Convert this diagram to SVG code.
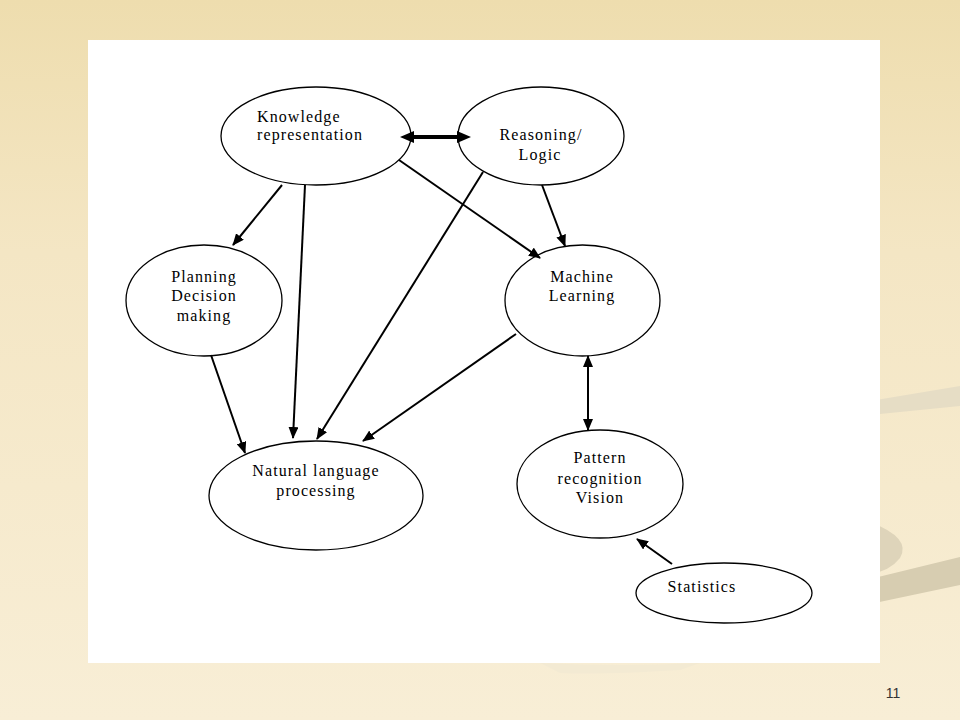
<svg xmlns="http://www.w3.org/2000/svg" width="960" height="720" viewBox="0 0 960 720">
<defs>
<linearGradient id="bg" x1="0" y1="0" x2="0" y2="1">
<stop offset="0" stop-color="#EEDDAE"/>
<stop offset="0.35" stop-color="#F4E6C4"/>
<stop offset="1" stop-color="#F8EED6"/>
</linearGradient>
<marker id="ah" viewBox="0 0 12 10" refX="11" refY="5" markerWidth="12" markerHeight="10" markerUnits="userSpaceOnUse" orient="auto-start-reverse">
<path d="M0,0 L12,5 L0,10 Z" fill="#000"/>
</marker>
<marker id="ahb" viewBox="0 0 14 12" refX="3" refY="6" markerWidth="14" markerHeight="12" markerUnits="userSpaceOnUse" orient="auto-start-reverse">
<path d="M0,0 L14,6 L0,12 Z" fill="#000"/>
</marker>
</defs>
<style>
.node ellipse{fill:#fff;stroke:#000;stroke-width:1.3}
.node text{font-family:"Liberation Serif","Times New Roman",serif;font-size:16px;fill:#000;letter-spacing:1.1px}
.c{text-anchor:middle}
#connectors line{stroke:#000;stroke-width:2;fill:none}
</style>
<rect width="960" height="720" fill="url(#bg)"/>
<g id="decor">
<path d="M870,401 L960,386 L960,406 L870,415 Z" fill="#E6DDC5"/>
<path d="M870,522 Q912,538 900,558 Q890,571 870,574 Z" fill="#DED4BA"/>
<path d="M870,579 L960,557 L960,585 L870,604 Z" fill="#D7CDB1"/>
<path d="M540,663 Q620,667 700,663 L680,670 Q600,675 560,673 Z" fill="#F3EAD3"/>
</g>
<rect x="88" y="40" width="792" height="623" fill="#fff"/>
<g id="kr" class="node">
<ellipse cx="316" cy="136" rx="95" ry="49"/>
<text x="257" y="122">Knowledge</text>
<text x="257" y="140">representation</text>
</g>
<g id="reasoning" class="node">
<ellipse cx="541" cy="136" rx="83" ry="49"/>
<text class="c" x="541" y="140">Reasoning/</text>
<text class="c" x="540" y="160">Logic</text>
</g>
<g id="planning" class="node">
<ellipse cx="204" cy="300.5" rx="78" ry="55.5"/>
<text class="c" x="204" y="282">Planning</text>
<text class="c" x="204" y="301">Decision</text>
<text class="c" x="204" y="321">making</text>
</g>
<g id="ml" class="node">
<ellipse cx="582.5" cy="300.5" rx="77.5" ry="55.5"/>
<text class="c" x="582" y="282">Machine</text>
<text class="c" x="582" y="301">Learning</text>
</g>
<g id="nlp" class="node">
<ellipse cx="316" cy="495.5" rx="107" ry="54.5"/>
<text class="c" x="316" y="476">Natural language</text>
<text class="c" x="316" y="496">processing</text>
</g>
<g id="pattern" class="node">
<ellipse cx="600" cy="484" rx="83" ry="54"/>
<text class="c" x="600" y="463">Pattern</text>
<text class="c" x="600" y="484">recognition</text>
<text class="c" x="600" y="503">Vision</text>
</g>
<g id="statistics" class="node">
<ellipse cx="724" cy="593" rx="88" ry="30"/>
<text class="c" x="702" y="592">Statistics</text>
</g>
<g id="connectors">
<line x1="411" y1="137" x2="460" y2="137" style="stroke-width:4" marker-start="url(#ahb)" marker-end="url(#ahb)"/>
<line x1="282" y1="185" x2="233" y2="245" marker-end="url(#ah)"/>
<line x1="305" y1="185" x2="293" y2="438" marker-end="url(#ah)"/>
<line x1="399" y1="160" x2="540" y2="258" marker-end="url(#ah)"/>
<line x1="542" y1="185" x2="565" y2="246" marker-end="url(#ah)"/>
<line x1="483" y1="172" x2="317" y2="439" marker-end="url(#ah)"/>
<line x1="211" y1="355" x2="245" y2="453" marker-end="url(#ah)"/>
<line x1="516" y1="334" x2="363" y2="441" marker-end="url(#ah)"/>
<line x1="588" y1="356" x2="588" y2="430" marker-start="url(#ah)" marker-end="url(#ah)"/>
<line x1="672" y1="564" x2="637" y2="539" marker-end="url(#ah)"/>
</g>
<text x="893" y="698" text-anchor="middle" font-family="Liberation Sans, Arial, sans-serif" font-size="14" fill="#333">11</text>
</svg>
